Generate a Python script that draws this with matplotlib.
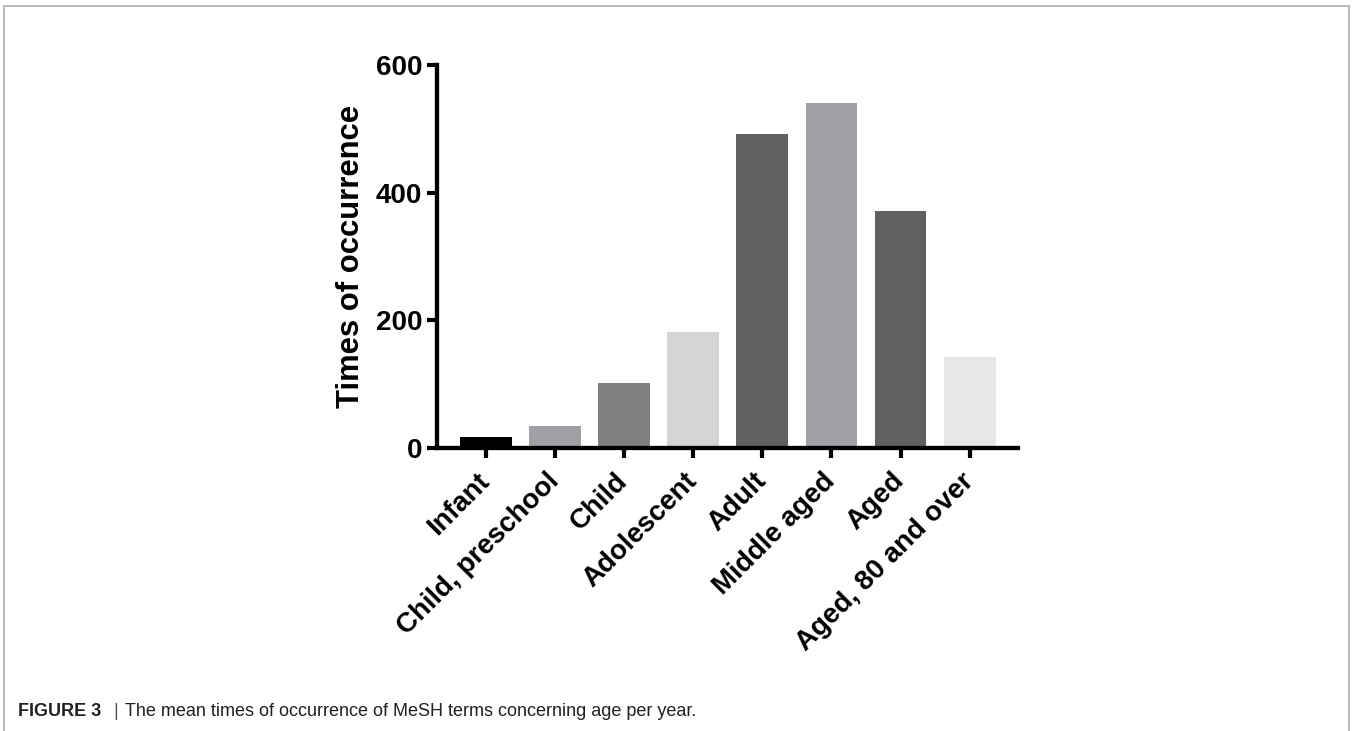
import matplotlib
matplotlib.use("Agg")
import matplotlib.pyplot as plt
from matplotlib.patches import Rectangle
from matplotlib.transforms import ScaledTranslation

categories = ["Infant", "Child, preschool", "Child", "Adolescent", "Adult",
              "Middle aged", "Aged", "Aged, 80 and over"]
values = [17, 35, 102, 182, 492, 540, 372, 142]
colors = ["#000000", "#a0a0a4", "#808080", "#d4d4d4", "#606060",
          "#a0a0a4", "#606060", "#e6e6e6"]
yticks = [0, 200, 400, 600]

plt.rcParams['font.family'] = ['Liberation Sans', 'DejaVu Sans']

fig = plt.figure(figsize=(13.52, 7.31), dpi=100)
W, H = 1352, 731

# outer frame
fig.patches.append(Rectangle((4 / W, -0.01), (1349 - 4) / W, 1.01 - 6.5 / H,
                             transform=fig.transFigure, fill=False,
                             edgecolor="#b4b4b4", linewidth=1.3))

left, right = 437 / W, 1018 / W
bottom, top = (H - 448) / H, (H - 65) / H
ax = fig.add_axes([left, bottom, right - left, top - bottom])

x = list(range(len(categories)))
ax.bar(x, values, width=0.75, color=colors, zorder=2)

ax.set_xlim(-0.71, 7.70)
ax.set_ylim(0, 600)
ax.set_yticks(yticks)
ax.set_yticklabels([str(v) for v in yticks], fontsize=20, fontweight='bold')
ax.set_xticks(x)
ax.set_xticklabels(categories, fontsize=20, fontweight='bold', rotation=45,
                   ha='right', va='center', rotation_mode='anchor')
offset = ScaledTranslation(5 / 100, -3 / 100, fig.dpi_scale_trans)
for lab in ax.get_xticklabels():
    lab.set_transform(lab.get_transform() + offset)

for s in ['top', 'right']:
    ax.spines[s].set_visible(False)
for s in ['left', 'bottom']:
    ax.spines[s].set_linewidth(3.1)
    ax.spines[s].set_zorder(3)
ax.spines['left'].set_capstyle('projecting')

ax.tick_params(axis='y', length=7, width=3.0, pad=3.5)
ax.tick_params(axis='x', length=7, width=3.0, pad=14)

ax.set_ylabel("Times of occurrence", fontsize=22.3, fontweight='bold', labelpad=7)

ty = 1 - 711 / H
fig.text(18 / W, ty, "FIGURE 3", fontsize=13, fontweight='bold',
         va='center', ha='left', color='#231f20')
fig.text(113 / W, ty, "|", fontsize=13, va='center', ha='left', color='#555555')
fig.text(125 / W, ty, "The mean times of occurrence of MeSH terms concerning age per year.",
         fontsize=13, va='center', ha='left', color='#231f20')

fig.savefig("out.png", dpi=100)
